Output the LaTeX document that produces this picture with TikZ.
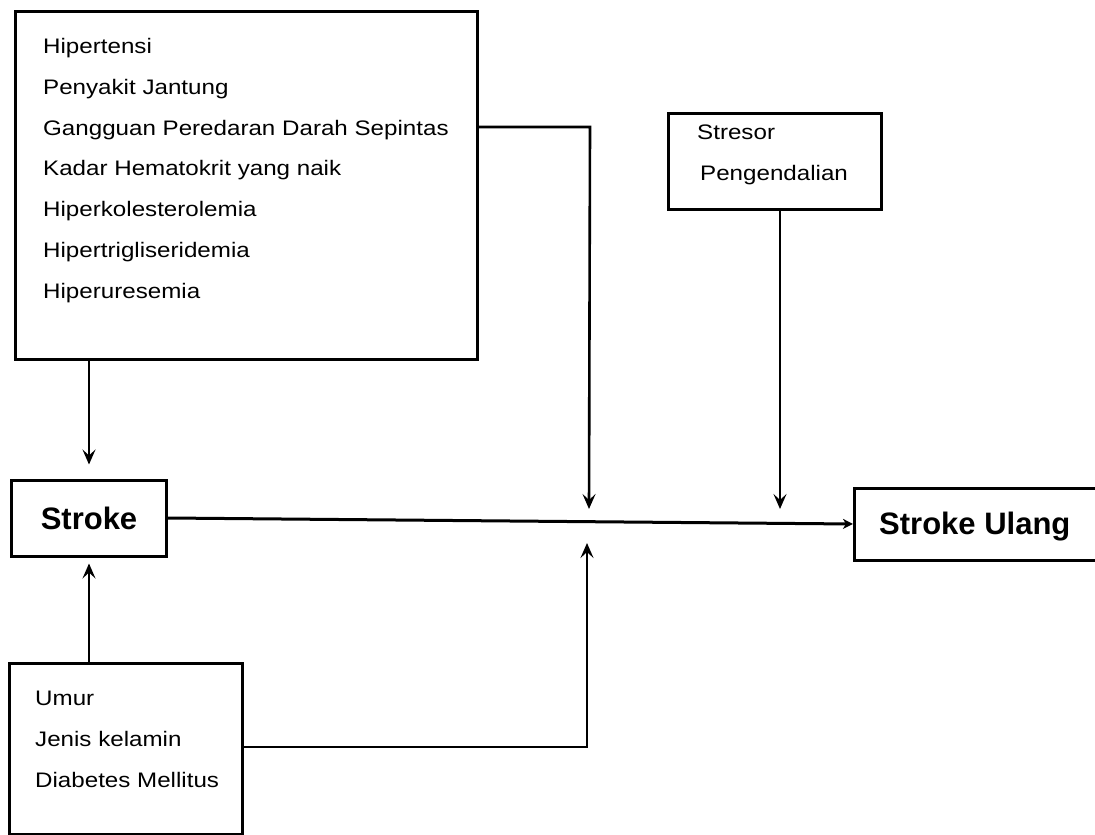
\documentclass[tikz,border=0pt]{standalone}
\usepackage{fontspec}
\setmainfont[FakeStretch=1.15]{Liberation Sans}
\newfontfamily\headfont{Liberation Sans}
\usetikzlibrary{arrows.meta}

\tikzset{
  box/.style={draw, line width=3pt, inner sep=0pt},
  listtext/.style={align=left, inner sep=0pt, anchor=north west,
    font=\fontsize{21}{40.8}\selectfont},
  headtext/.style={font=\headfont\bfseries\fontsize{31}{36}\selectfont},
  arr/.style={line width=2.6pt, -{Stealth[length=15pt,width=13pt,inset=6pt]}},
  mainarr/.style={line width=3pt, -{Stealth[length=10pt,width=10pt,inset=3pt]}},
}

\begin{document}
\begin{tikzpicture}[x=1pt, y=-1pt]
  \useasboundingbox (0,0) rectangle (1095,835);

  % risk factor list
  \node[box, minimum width=462pt, minimum height=348pt, anchor=north west] (risk) at (14,10) {};
  \node[listtext] (risklist) at (43,38) {Hipertensi\\Penyakit Jantung\\Gangguan Peredaran Darah Sepintas\\Kadar Hematokrit yang naik\\Hiperkolesterolemia\\Hipertrigliseridemia\\Hiperuresemia};

  % stress box
  \node[box, minimum width=213pt, minimum height=96pt, anchor=north west] (stres) at (667,112) {};
  \node[listtext] (streslist) at (697,125) {Stresor\\\hspace*{3pt}Pengendalian};

  % non-modifiable factors
  \node[box, minimum width=233pt, minimum height=171pt, anchor=north west] (age) at (8,662) {};
  \node[listtext] (agelist) at (35,691) {Umur\\Jenis kelamin\\Diabetes Mellitus};

  % outcome boxes
  \node[box, headtext, minimum width=155pt, minimum height=76pt] (stroke) at (89,518) {Stroke};
  \node[box, minimum width=260pt, minimum height=72pt, anchor=west] (ulang) at (853,524) {};
  \node[headtext, anchor=west, inner sep=0pt] (ulangtext) at (879,527) {Stroke Ulang};

  % junction points on the main line
  \coordinate (mTop) at (589,509);
  \coordinate (mBot) at (587,543);
  \coordinate (mStr) at (780,509);
  \coordinate (rTurn) at (590,127);
  \coordinate (bTurn) at (587,747);

  % connectors
  \draw[mainarr] (stroke.east) -- (ulang.west);
  \draw[arr, shorten >=14pt] (risk.south -| stroke.north) -- (stroke.north);
  \draw[arr, shorten >=6pt] (age.north -| stroke.south) -- (stroke.south);
  \draw[arr] (rTurn -| risk.east) -- (rTurn) -- (mTop);
  \draw[arr] (bTurn -| age.east) -- (bTurn) -- (mBot);
  \draw[arr] (mStr |- stres.south) -- (mStr);
\end{tikzpicture}
\end{document}
